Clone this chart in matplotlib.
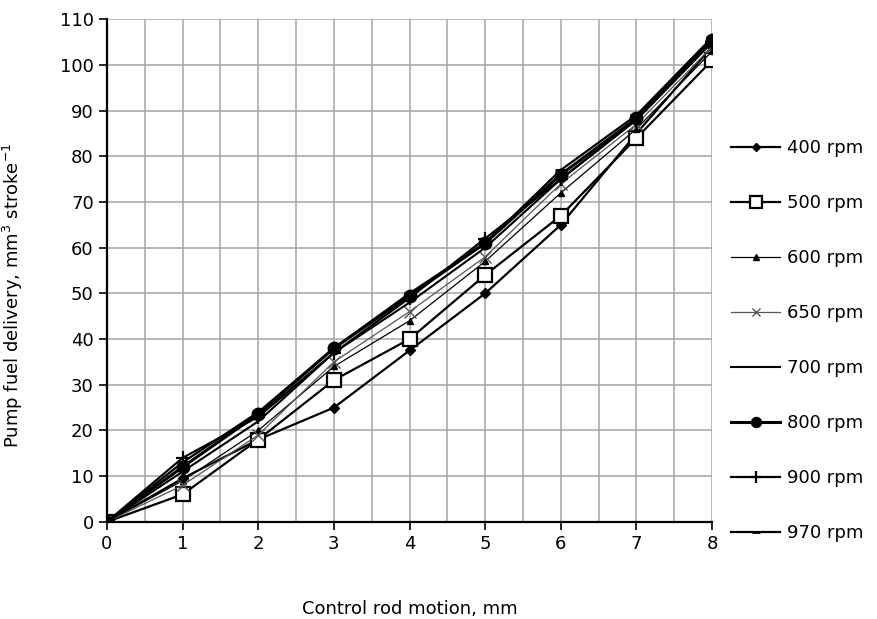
import numpy as np
import matplotlib.pyplot as plt

plt.rcParams['font.family'] = ['DejaVu Sans']

rod = [0, 1, 2, 3, 4, 5, 6, 7, 8]
rpm400 = [0, 9.5, 18, 25, 37.5, 50, 65, 85, 104]
rpm500 = [0, 6, 18, 31, 40, 54, 67, 84, 101]
rpm600 = [0, 9, 20, 34, 44, 57, 72, 86, 103]
rpm650 = [0, 8, 19, 35, 46, 58, 74, 87, 104]
rpm700 = [0, 11, 22, 37, 48, 60, 75, 88, 105]
rpm800 = [0, 12, 23.6, 38, 49.5, 61, 76, 88.3, 105.5]
rpm900 = [0, 14, 23, 37, 49, 62, 75, 88, 105]
rpm970 = [0, 13, 24, 38, 50, 61, 77, 89, 106]

fig = plt.figure(figsize=(8.77, 6.19), dpi=100)
ax = fig.add_axes([0.122, 0.157, 0.69, 0.812])

ax.plot(rod, rpm400, color='black', lw=1.6, marker='D', ms=5, label='400 rpm')
ax.plot(rod, rpm500, color='black', lw=1.6, marker='s', ms=10, mfc='white', mew=1.6, label='500 rpm')
ax.plot(rod, rpm600, color='black', lw=0.9, marker='^', ms=5, label='600 rpm')
ax.plot(rod, rpm650, color='#555555', lw=0.9, marker='x', ms=8, mec='#555555', label='650 rpm')
ax.plot(rod, rpm700, color='black', lw=1.5, label='700 rpm')
ax.plot(rod, rpm800, color='black', lw=2.2, marker='o', ms=9, label='800 rpm')
ax.plot(rod, rpm900, color='black', lw=1.6, marker='+', ms=10, mew=1.6, label='900 rpm')
ax.plot(rod, rpm970, color='black', lw=1.6, marker='_', ms=8, mew=2, label='970 rpm')

ax.set_xlim(0, 8)
ax.set_ylim(0, 110)
ax.set_xticks(range(0, 9))
ax.set_xticks(np.arange(0.5, 8, 1), minor=True)
ax.set_yticks(range(0, 111, 10))
ax.grid(True, which='both', axis='x', color='#a6a6a6', lw=1.1)
ax.grid(True, which='major', axis='y', color='#a6a6a6', lw=1.1)
ax.tick_params(axis='x', which='minor', length=0)
ax.tick_params(which='major', direction='out', length=6, width=1.2, labelsize=13)
for s in ['top', 'right']:
    ax.spines[s].set_visible(False)
for s in ['left', 'bottom']:
    ax.spines[s].set_linewidth(1.6)
ax.set_axisbelow(True)

ax.set_xlabel('Control rod motion, mm', fontsize=13, labelpad=34)
ax.set_ylabel('Pump fuel delivery, mm$^3$ stroke$^{-1}$', fontsize=13)
ax.yaxis.set_label_coords(-0.135, 0.45)

ax.legend(loc='center left', bbox_to_anchor=(1.005, 0.36), frameon=False,
          fontsize=13, labelspacing=2.05, handlelength=2.7, handletextpad=0.4,
          markerscale=0.8)

fig.savefig('out.png', dpi=100)
